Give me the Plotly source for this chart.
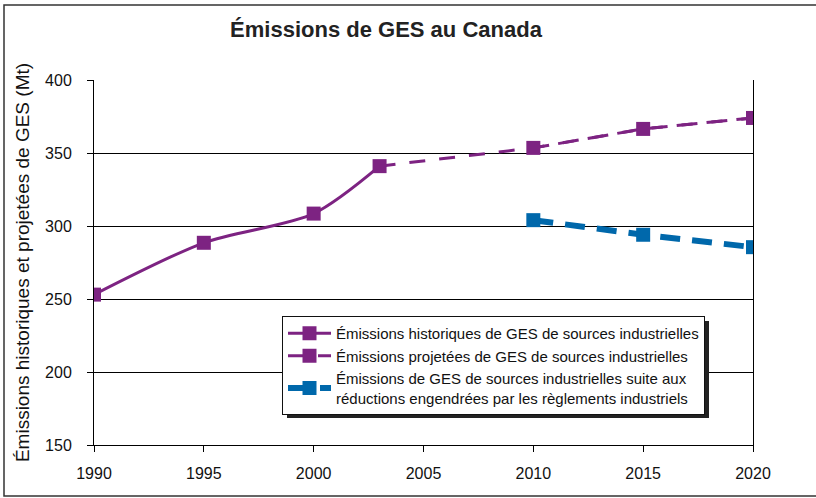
import plotly.graph_objects as go

W, H = 816, 498
ML, MR, MT, MB = 94, 63, 80, 53

PURPLE = "#7d2382"
BLUE = "#0068ab"

hist_years = [1990, 1995, 2000, 2003]
hist_values = [253, 288.5, 308.5, 341]

proj_years = [2003, 2010, 2015, 2020]
proj_values = [341, 353.5, 366.5, 374]
proj_marker_years = [2010, 2015, 2020]
proj_marker_values = [353.5, 366.5, 374]

red_years = [2010, 2015, 2020]
red_values = [304, 294, 285.5]

x_ticks = [1990, 1995, 2000, 2005, 2010, 2015, 2020]
y_ticks = [150, 200, 250, 300, 350, 400]


def px_x(p):
    return (p - ML) / (W - ML - MR)


def px_y(p):
    return (H - MB - p) / (H - MT - MB)


fig = go.Figure()

fig.add_trace(go.Scatter(
    x=hist_years, y=hist_values, mode="lines+markers",
    line=dict(color=PURPLE, width=3, shape="spline", smoothing=0.8),
    marker=dict(symbol="square", size=14, color=PURPLE),
    name="Émissions historiques de GES de sources industrielles",
))
fig.add_trace(go.Scatter(
    x=proj_years, y=proj_values, mode="lines",
    line=dict(color=PURPLE, width=3, dash="16px,14px"),
    showlegend=False, hoverinfo="skip",
))
fig.add_trace(go.Scatter(
    x=proj_marker_years, y=proj_marker_values, mode="lines+markers",
    line=dict(color=PURPLE, width=3, dash="16px,14px"),
    marker=dict(symbol="square", size=14, color=PURPLE),
    name="Émissions projetées de GES de sources industrielles",
))
fig.add_trace(go.Scatter(
    x=red_years, y=red_values, mode="lines+markers",
    line=dict(color=BLUE, width=6, dash="20px,12px"),
    marker=dict(symbol="square", size=14, color=BLUE),
    name="Émissions de GES de sources industrielles suite aux<br>réductions engendrées par les règlements industriels",
))

# outer frame and legend shadow
fig.add_shape(type="rect", xref="paper", yref="paper",
              x0=px_x(4), x1=px_x(830), y0=px_y(496), y1=px_y(5),
              line=dict(color="#333333", width=1.5), layer="below")
fig.add_shape(type="rect", xref="paper", yref="paper",
              x0=px_x(287), x1=px_x(709), y0=px_y(418), y1=px_y(321),
              line=dict(width=0), fillcolor="#222222", layer="above")

fig.update_layout(
    width=W, height=H,
    margin=dict(l=ML, r=MR, t=MT, b=MB, autoexpand=False),
    paper_bgcolor="white", plot_bgcolor="white",
    font=dict(family="Liberation Sans, Arial, sans-serif", size=16, color="#111111"),
    title=dict(text="<b>Émissions de GES au Canada</b>", x=px_x(386), xref="paper",
               xanchor="center", y=1 - 29 / H, yanchor="middle",
               font=dict(size=22, color="#222222")),
    showlegend=True,
    legend=dict(x=px_x(282), y=px_y(316), xanchor="left", yanchor="top",
                bgcolor="white", bordercolor="#111111", borderwidth=1,
                font=dict(size=15, color="#111111"), itemwidth=43,
                tracegroupgap=0),
    xaxis=dict(range=[1990, 2020], tickvals=x_ticks, showgrid=False,
               showline=True, linecolor="black", linewidth=1,
               ticks="outside", ticklen=6, tickcolor="black",
               ticklabelstandoff=8,
               zeroline=False, automargin=False),
    yaxis=dict(range=[150, 400], tickvals=y_ticks, showgrid=True,
               gridcolor="black", gridwidth=1,
               showline=True, linecolor="black", linewidth=1, mirror=True,
               ticks="outside", ticklen=6, tickcolor="black",
               ticklabelstandoff=12,
               zeroline=False, automargin=False,
               title=dict(text="Émissions historiques et projetées de GES (Mt)",
                          standoff=10)),
)

fig.write_html("out.html", config={"displayModeBar": False},
               post_script="document.body.style.margin='0';")
